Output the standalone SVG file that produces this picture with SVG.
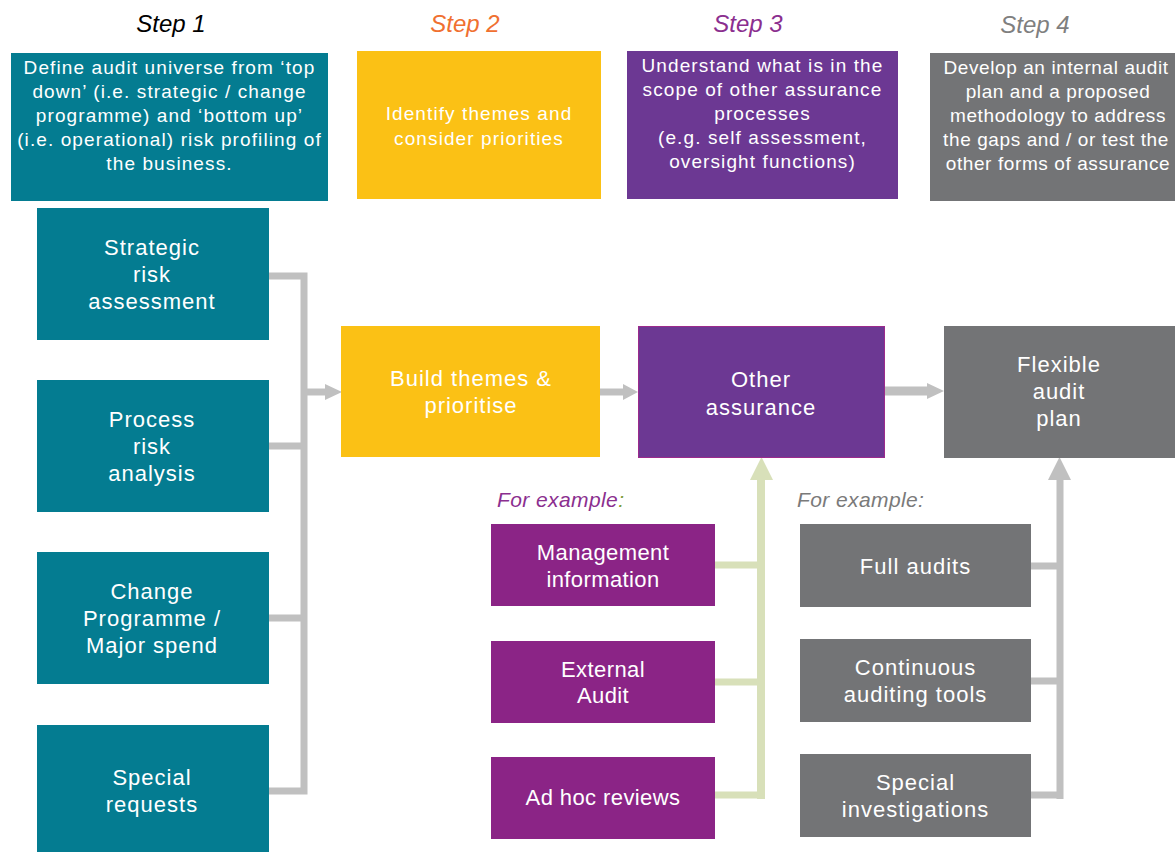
<svg xmlns="http://www.w3.org/2000/svg" width="1175" height="852" viewBox="0 0 1175 852">
<style>
.step{font-family:"Liberation Sans",Arial,sans-serif;font-style:italic;font-size:24px;text-anchor:middle}
.desc{font-family:"Liberation Sans",Arial,sans-serif;font-size:19px;fill:#fff;text-anchor:middle;letter-spacing:1.1px}
.lbl{font-family:"Liberation Sans",Arial,sans-serif;font-size:22px;fill:#fff;text-anchor:middle;letter-spacing:1px}
.ex{font-family:"Liberation Sans",Arial,sans-serif;font-size:22px;fill:#fff;text-anchor:middle;letter-spacing:0.4px}
.fe{font-family:"Liberation Sans",Arial,sans-serif;font-style:italic;font-size:21px;letter-spacing:0.4px}
.teal{fill:#047C91}
.yellow{fill:#FBC115}
.purple{fill:#6C3893}
.magenta{fill:#8B2486}
.gray{fill:#737476}
.gline{fill:none;stroke:#C0C0C0;stroke-width:7}
.green{fill:none;stroke:#D8E0B9;stroke-width:8}
</style>

<g id="step-labels">
<text class="step" x="171" y="32" fill="#000">Step 1</text>
<text class="step" x="465" y="32" fill="#F07030">Step 2</text>
<text class="step" x="748" y="32" fill="#8B2F8F">Step 3</text>
<text class="step" x="1035" y="33" fill="#7F7F7F">Step 4</text>
</g>

<g id="step1-box">
<rect class="teal" x="11" y="53" width="317" height="148"/>
<text class="desc" x="169.5"><tspan x="169.5" y="74">Define audit universe from ‘top</tspan><tspan x="169.5" y="98">down’ (i.e. strategic / change</tspan><tspan x="169.5" y="122">programme) and ‘bottom up’</tspan><tspan x="169.5" y="146">(i.e. operational) risk profiling of</tspan><tspan x="169.5" y="170">the business.</tspan></text>
</g>
<g id="step2-box">
<rect class="yellow" x="357" y="51" width="244" height="148"/>
<text class="desc" x="479"><tspan x="479" y="120">Identify themes and</tspan><tspan x="479" y="145">consider priorities</tspan></text>
</g>
<g id="step3-box">
<rect class="purple" x="627" y="51" width="271" height="148"/>
<text class="desc" x="762.5"><tspan x="762.5" y="72">Understand what is in the</tspan><tspan x="762.5" y="96">scope of other assurance</tspan><tspan x="762.5" y="120">processes</tspan><tspan x="762.5" y="144">(e.g. self assessment,</tspan><tspan x="762.5" y="168">oversight functions)</tspan></text>
</g>
<g id="step4-box">
<rect class="gray" x="930" y="53" width="260" height="148"/>
<text class="desc" x="1056" style="letter-spacing:0.6px"><tspan x="1056" y="74">Develop an internal audit</tspan><tspan x="1058" y="98">plan and a proposed</tspan><tspan x="1058" y="122">methodology to address</tspan><tspan x="1056" y="146">the gaps and / or test the</tspan><tspan x="1058" y="170">other forms of assurance</tspan></text>
</g>

<g id="connectors">
<path class="gline" d="M269,276 H304 V791 H269"/>
<path class="gline" d="M269,446 H304 M269,618 H304"/>
<path class="gline" d="M304,392 H327"/>
<polygon fill="#C0C0C0" points="325,384 342,392 325,400"/>
<path class="gline" d="M600,392 H625"/>
<polygon fill="#C0C0C0" points="623,384 638,392 623,400"/>
<path fill="none" stroke="#C0C0C0" stroke-width="9" d="M885,391 H929"/>
<polygon fill="#C0C0C0" points="927,383 944,391 927,399"/>
<path class="green" d="M761,478 V799"/>
<path fill="none" stroke="#D8E0B9" stroke-width="7" d="M715,565 H761 M715,682 H761 M715,795 H765"/>
<polygon fill="#D8E0B9" points="750,480 761.5,457 773,480"/>
<path class="gline" d="M1060,478 V799"/>
<path class="gline" d="M1031,566 H1060 M1031,681 H1060 M1031,795 H1063"/>
<polygon fill="#C0C0C0" points="1048,480 1059.5,457 1071,480"/>
</g>

<g id="strategic">
<rect class="teal" x="37" y="208" width="232" height="132"/>
<text class="lbl"><tspan x="152" y="255">Strategic</tspan><tspan x="152" y="282">risk</tspan><tspan x="152" y="309">assessment</tspan></text>
</g>
<g id="process">
<rect class="teal" x="37" y="380" width="232" height="132"/>
<text class="lbl"><tspan x="152" y="427">Process</tspan><tspan x="152" y="454">risk</tspan><tspan x="152" y="481">analysis</tspan></text>
</g>
<g id="change">
<rect class="teal" x="37" y="552" width="232" height="132"/>
<text class="lbl"><tspan x="152" y="599">Change</tspan><tspan x="152" y="626">Programme /</tspan><tspan x="152" y="653">Major spend</tspan></text>
</g>
<g id="special-requests">
<rect class="teal" x="37" y="725" width="232" height="132"/>
<text class="lbl"><tspan x="152" y="785">Special</tspan><tspan x="152" y="812">requests</tspan></text>
</g>

<g id="build-themes">
<rect class="yellow" x="341" y="326" width="259" height="131"/>
<text class="lbl"><tspan x="471" y="386">Build themes &amp;</tspan><tspan x="471" y="413">prioritise</tspan></text>
</g>
<g id="other-assurance">
<rect class="purple" x="638.5" y="326.5" width="246" height="131" stroke="#9C2A8C" stroke-width="1"/>
<text class="lbl"><tspan x="761" y="387">Other</tspan><tspan x="761" y="415">assurance</tspan></text>
</g>
<g id="flexible-plan">
<rect class="gray" x="944" y="326" width="250" height="132"/>
<text class="lbl"><tspan x="1059" y="372">Flexible</tspan><tspan x="1059" y="399">audit</tspan><tspan x="1059" y="426">plan</tspan></text>
</g>

<g id="for-example-purple">
<text class="fe" x="497" y="507" fill="#8B2F8F">For example<tspan fill="#7D9B3A">:</tspan></text>
</g>
<g id="management-information">
<rect class="magenta" x="491" y="524" width="224" height="82"/>
<text class="ex"><tspan x="603" y="560">Management</tspan><tspan x="603" y="587">information</tspan></text>
</g>
<g id="external-audit">
<rect class="magenta" x="491" y="641" width="224" height="82"/>
<text class="ex"><tspan x="603" y="677">External</tspan><tspan x="603" y="703">Audit</tspan></text>
</g>
<g id="ad-hoc-reviews">
<rect class="magenta" x="491" y="757" width="224" height="82"/>
<text class="ex"><tspan x="603" y="805">Ad hoc reviews</tspan></text>
</g>

<g id="for-example-gray">
<text class="fe" x="797" y="507" fill="#7A7A7A">For example:</text>
</g>
<g id="full-audits">
<rect class="gray" x="800" y="524" width="231" height="83"/>
<text class="lbl"><tspan x="915.5" y="574">Full audits</tspan></text>
</g>
<g id="continuous-auditing">
<rect class="gray" x="800" y="639" width="231" height="83"/>
<text class="lbl"><tspan x="915.5" y="675">Continuous</tspan><tspan x="915.5" y="702">auditing tools</tspan></text>
</g>
<g id="special-investigations">
<rect class="gray" x="800" y="754" width="231" height="83"/>
<text class="lbl"><tspan x="915.5" y="790">Special</tspan><tspan x="915.5" y="817">investigations</tspan></text>
</g>
</svg>
